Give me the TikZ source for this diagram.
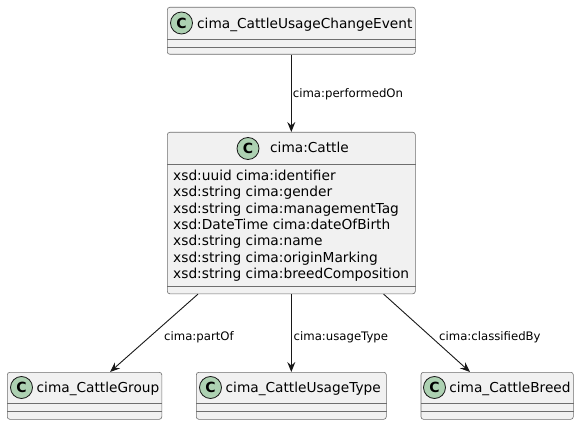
\documentclass[tikz,border=0pt]{standalone}
\usepackage{fontspec}
\setmainfont{DejaVu Sans}
\usetikzlibrary{arrows.meta,calc}
\definecolor{boxfill}{HTML}{F1F1F1}
\definecolor{boxline}{HTML}{181818}
\definecolor{sepgray}{HTML}{6E6E6E}
\definecolor{iconfill}{HTML}{ADD1B2}
\tikzset{
  classbox/.style={draw=sepgray, fill=boxfill, line width=0.6pt, rounded corners=2.5pt, inner sep=0pt, anchor=north west},
  sepline/.style={draw=sepgray, line width=0.6pt},
  iconc/.style={circle, draw=boxline, line width=0.8pt, fill=iconfill, minimum size=22pt, inner sep=0pt, font=\fontsize{14}{14}\selectfont\bfseries},
  ctitle/.style={anchor=base west, inner sep=0pt, font=\fontsize{13.7}{16}\selectfont},
  attr/.style={anchor=base west, inner sep=0pt, font=\fontsize{13.75}{16}\selectfont},
  elabel/.style={anchor=base west, inner sep=0pt, font=\fontsize{11.7}{14}\selectfont},
  conn/.style={draw=boxline, line width=0.9pt, -{Stealth[length=10pt,width=8pt,inset=3.5pt]}}
}
\begin{document}
\begin{tikzpicture}[x=1pt,y=-1pt]
\useasboundingbox (0,0) rectangle (579,425);
% top box
\node[classbox, minimum width=248pt, minimum height=47pt] (ev) at (167,7) {};
\draw[sepline] ($(ev.north west)+(0,32)$) -- ($(ev.north east)+(0,32)$);
\draw[sepline] ($(ev.north west)+(0,40)$) -- ($(ev.north east)+(0,40)$);
\node[iconc] (evc) at (181.5,23) {C};
\node[ctitle] (evt) at (197,28.3) {cima\_CattleUsageChangeEvent};
% cattle box
\node[classbox, minimum width=248pt, minimum height=161.5pt] (cattle) at (167,132) {};
\draw[sepline] ($(cattle.north west)+(0,32)$) -- ($(cattle.north east)+(0,32)$);
\draw[sepline] ($(cattle.north west)+(0,154)$) -- ($(cattle.north east)+(0,154)$);
\node[iconc] (cc) at (248,148.5) {C};
\node[ctitle] (ct) at (270,152.7) {cima:Cattle};
\node[attr] (a1) at (173,180.5) {xsd:uuid cima:identifier};
\node[attr] (a2) at (173,196.8) {xsd:string cima:gender};
\node[attr] (a3) at (173,213.1) {xsd:string cima:managementTag};
\node[attr] (a4) at (173,229.4) {xsd:DateTime cima:dateOfBirth};
\node[attr] (a5) at (173,245.7) {xsd:string cima:name};
\node[attr] (a6) at (173,262.0) {xsd:string cima:originMarking};
\node[attr] (a7) at (173,278.3) {xsd:string cima:breedComposition};
% bottom boxes
\node[classbox, minimum width=154.5pt, minimum height=47pt] (grp) at (7,372) {};
\draw[sepline] ($(grp.north west)+(0,31)$) -- ($(grp.north east)+(0,31)$);
\draw[sepline] ($(grp.north west)+(0,39)$) -- ($(grp.north east)+(0,39)$);
\node[iconc] (gc) at (21.5,387.5) {C};
\node[ctitle] (gt) at (36.5,392.8) {cima\_CattleGroup};
\node[classbox, minimum width=190pt, minimum height=47pt] (ut) at (196,372) {};
\draw[sepline] ($(ut.north west)+(0,31)$) -- ($(ut.north east)+(0,31)$);
\draw[sepline] ($(ut.north west)+(0,39)$) -- ($(ut.north east)+(0,39)$);
\node[iconc] (uc) at (210.5,387.5) {C};
\node[ctitle] (utt) at (225.5,392.8) {cima\_CattleUsageType};
\node[classbox, minimum width=152.3pt, minimum height=47pt] (br) at (420.7,372) {};
\draw[sepline] ($(br.north west)+(0,31)$) -- ($(br.north east)+(0,31)$);
\draw[sepline] ($(br.north west)+(0,39)$) -- ($(br.north east)+(0,39)$);
\node[iconc] (bc) at (434.5,387.5) {C};
\node[ctitle] (bt) at (449.2,392.8) {cima\_CattleBreed};
% connectors
\coordinate (pS) at ($(cattle.south west)+(31,0)$);
\coordinate (pE) at ($(grp.north west)+(103,0)$);
\coordinate (cS) at ($(cattle.south east)+(-32,0)$);
\coordinate (cE) at ($(br.north west)+(49.3,0)$);
\draw[conn] (ev.south) -- (cattle.north);
\draw[conn] (pS) -- (pE);
\draw[conn] (cattle.south) -- (cattle.south |- ut.north);
\draw[conn] (cS) -- (cE);
% labels
\node[elabel] (l1) at (292.7,98) {cima:performedOn};
\node[elabel] (l2) at (164,340) {cima:partOf};
\node[elabel] (l3) at (293.5,340) {cima:usageType};
\node[elabel] (l4) at (439,340) {cima:classifiedBy};
\end{tikzpicture}
\end{document}
